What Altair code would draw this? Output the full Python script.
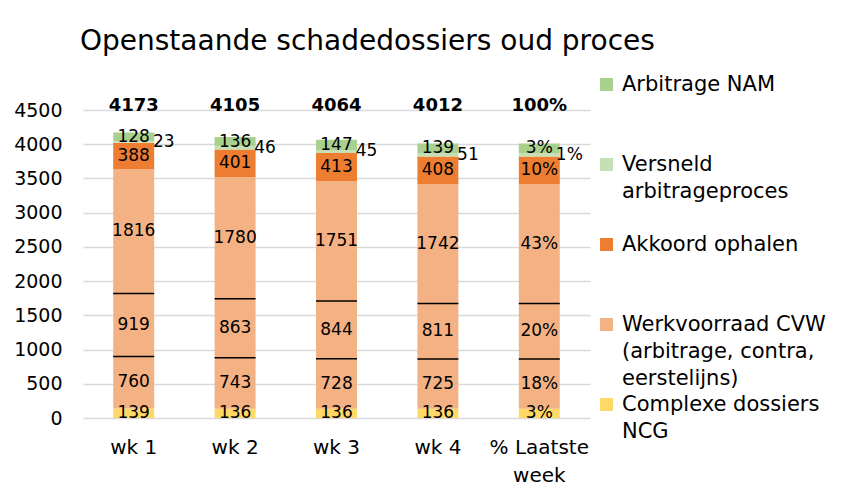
import altair as alt
import pandas as pd

FONT = "DejaVu Sans"

categories = ["wk 1", "wk 2", "wk 3", "wk 4", "% Laatste week"]
series_names = [
    "Arbitrage NAM",
    "Versneld arbitrageproces",
    "Akkoord ophalen",
    "Werkvoorraad CVW (arbitrage, contra, eerstelijns)",
    "Complexe dossiers NCG",
]
series_lines = [
    ["Arbitrage NAM"],
    ["Versneld", "arbitrageproces"],
    ["Akkoord ophalen"],
    ["Werkvoorraad CVW", "(arbitrage, contra,", "eerstelijns)"],
    ["Complexe dossiers", "NCG"],
]
series_colors = ["#a9d18e", "#c5e0b4", "#ed7d31", "#f4b183", "#ffd966"]

# weekly values (wk 1 .. wk 4)
complexe_ncg = [139, 136, 136, 136]
cvw_deel1 = [760, 743, 728, 725]
cvw_deel2 = [919, 863, 844, 811]
cvw_deel3 = [1816, 1780, 1751, 1742]
akkoord_ophalen = [388, 401, 413, 408]
versneld_arbitrage = [23, 46, 45, 51]
arbitrage_nam = [128, 136, 147, 139]
totals = [4173, 4105, 4064, 4012]

# percentage labels for the last bar (bottom -> top)
pct_last_week = ["3%", "18%", "20%", "43%", "10%", "1%", "3%"]
pct_total = "100%"

y_ticks = [0, 500, 1000, 1500, 2000, 2500, 3000, 3500, 4000, 4500]

# segments in stacking order (bottom -> top)
segments = [
    ("Complexe dossiers NCG", "ncg", complexe_ncg),
    ("Werkvoorraad CVW (arbitrage, contra, eerstelijns)", "cvw1", cvw_deel1),
    ("Werkvoorraad CVW (arbitrage, contra, eerstelijns)", "cvw2", cvw_deel2),
    ("Werkvoorraad CVW (arbitrage, contra, eerstelijns)", "cvw3", cvw_deel3),
    ("Akkoord ophalen", "akk", akkoord_ophalen),
    ("Versneld arbitrageproces", "vers", versneld_arbitrage),
    ("Arbitrage NAM", "nam", arbitrage_nam),
]

rows = []
for ci, cat in enumerate(categories):
    src = ci if ci < 4 else 3
    for k, (series, part, vals) in enumerate(segments):
        v = vals[src]
        lab = str(v) if ci < 4 else pct_last_week[k]
        rows.append({"cat": cat, "series": series, "part": part, "ord": k,
                     "value": v, "label": lab})
seg_df = pd.DataFrame(rows)

tot_df = pd.DataFrame({
    "cat": categories,
    "tot": [str(t) for t in totals] + [pct_total],
})

x_enc = alt.X(
    "cat:N", sort=categories, title=None,
    scale=alt.Scale(paddingInner=0.596, paddingOuter=0.298),
    axis=alt.Axis(
        labelAngle=0, labelFont=FONT, labelFontSize=20, labelColor="black",
        labelPadding=19, ticks=False, tickSize=0, domain=False, grid=False,
        labelLineHeight=28,
        labelExpr="datum.value == '% Laatste week' ? ['% Laatste', 'week'] : datum.value",
    ),
)
y_scale = alt.Scale(domain=[0, 4500], nice=False, zero=True)

legend_expr = ""
for name, lines in zip(series_names, series_lines):
    arr = "[" + ", ".join("'" + l + "'" for l in lines) + "]"
    legend_expr += f"datum.label == '{name}' ? {arr} : "
legend_expr += "datum.label"

base = alt.Chart(seg_df).transform_stack(
    stack="value", groupby=["cat"], as_=["y0", "y1"],
    sort=[alt.SortField("ord", order="ascending")],
).transform_calculate(mid="(datum.y0 + datum.y1) / 2")

bars = base.mark_bar().encode(
    x=x_enc,
    y=alt.Y("y0:Q", scale=y_scale, title=None,
            axis=alt.Axis(values=y_ticks, tickCount=10, format="d",
                          labelOverlap=False, labelFont=FONT,
                          labelFontSize=19, labelColor="black", labelPadding=21,
                          ticks=False, tickSize=0, domain=False,
                          gridColor="#d9d9d9", gridWidth=1.5)),
    y2="y1:Q",
    color=alt.Color(
        "series:N",
        scale=alt.Scale(domain=series_names, range=series_colors),
        legend=alt.Legend(
            title=None, orient="none", legendX=513, legendY=-36,
            symbolType="square", symbolSize=169, symbolStrokeWidth=0,
            labelFont=FONT, labelFontSize=21, labelColor="black",
            labelLimit=400, labelOffset=5, gridAlign="all", rowPadding=4,
            padding=0, labelExpr=legend_expr,
        ),
    ),
)

seps = base.transform_filter(
    alt.FieldOneOfPredicate(field="part", oneOf=["cvw1", "cvw2"])
).mark_tick(color="black", size=41, thickness=1.5, opacity=1).encode(
    x=alt.X("cat:N", sort=categories),
    y=alt.Y("y1:Q"),
)

inner_labels = base.transform_filter("datum.part != 'vers'").mark_text(
    font=FONT, fontSize=17, color="black", baseline="middle"
).encode(
    x=alt.X("cat:N", sort=categories),
    y=alt.Y("mid:Q"),
    text="label:N",
)

side_labels = base.transform_filter("datum.part == 'vers'").mark_text(
    font=FONT, fontSize=17, color="black", baseline="middle", align="center", dx=30
).encode(
    x=alt.X("cat:N", sort=categories),
    y=alt.Y("mid:Q"),
    text="label:N",
)

total_labels = alt.Chart(tot_df).mark_text(
    font=FONT, fontSize=18, fontWeight="bold", color="black", baseline="middle"
).encode(
    x=alt.X("cat:N", sort=categories),
    y=alt.datum(4560),
    text="tot:N",
)

chart = alt.layer(bars, seps, inner_labels, side_labels, total_labels).properties(
    width=507,
    height=308,
    padding={"left": 5, "top": 20, "right": 5, "bottom": 5},
    title=alt.TitleParams(
        "Openstaande schadedossiers oud proces",
        anchor="start", frame="group", font=FONT, fontSize=28,
        fontWeight="normal", color="black", dx=-3, offset=18,
    ),
).configure(
    style={"guide-label": {"lineHeight": 27}}
).configure_view(strokeWidth=0)

chart.save("out.html", embed_options={"renderer": "svg", "actions": False})
